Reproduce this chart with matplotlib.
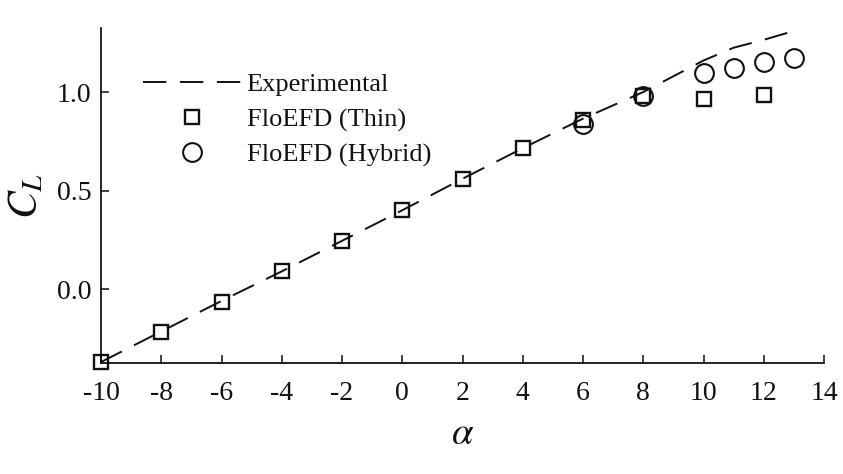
import matplotlib
matplotlib.use('Agg')
import matplotlib.pyplot as plt

exp_alpha = [-10, -8, -6, -4, -2, 0, 2, 4, 6, 8, 9, 10, 11, 12, 13]
exp_cl = [-0.37, -0.215, -0.06, 0.09, 0.245, 0.40, 0.56, 0.715, 0.865, 1.0, 1.08, 1.16, 1.225, 1.265, 1.31]
thin_alpha = [-10, -8, -6, -4, -2, 0, 2, 4, 6, 8, 10, 12]
thin_cl = [-0.37, -0.22, -0.065, 0.09, 0.245, 0.40, 0.56, 0.715, 0.86, 0.98, 0.965, 0.985]
hyb_alpha = [6, 8, 10, 11, 12, 13]
hyb_cl = [0.84, 0.98, 1.095, 1.12, 1.15, 1.175]
xticks = [-10, -8, -6, -4, -2, 0, 2, 4, 6, 8, 10, 12, 14]
yticks = [0.0, 0.5, 1.0]

plt.rcParams['font.family'] = ['Liberation Serif']
plt.rcParams['mathtext.fontset'] = 'stix'
plt.rcParams['axes.unicode_minus'] = False
fig = plt.figure(figsize=(8.43, 4.74), dpi=100)
ax = fig.add_axes([101/843, 1-363/474, (824-101)/843, (363-28)/474])
ax.set_xlim(-10, 14)
ax.set_ylim(-0.375, 1.325)
ax.plot(exp_alpha, exp_cl, color='#111111', lw=1.4, dashes=(12, 7), label='Experimental', clip_on=False)
ax.plot(thin_alpha, thin_cl, ls='none', marker='s', ms=10.4, mfc='none', mec='#111111', mew=1.7, label='FloEFD (Thin)', clip_on=False)
ax.plot(hyb_alpha, hyb_cl, ls='none', marker='o', ms=13.5, mfc='none', mec='#111111', mew=1.5, label='FloEFD (Hybrid)', clip_on=False)
for s in ['top', 'right']:
    ax.spines[s].set_visible(False)
for s in ['left', 'bottom']:
    ax.spines[s].set_linewidth(1.2)
ax.set_xticks(xticks)
ax.set_yticks(yticks)
ax.set_yticklabels(['0.0', '0.5', '1.0'])
ax.tick_params(axis='both', which='major', direction='in', length=5.5, width=1.1, labelsize=20, pad=7, color='#111111', labelcolor='#111111')
ax.tick_params(axis='x', pad=13)
ax.set_xlabel(r'$\alpha$', fontsize=28, labelpad=7.5, color='#111111')
ax.set_ylabel(r'$C_L$', fontsize=30, labelpad=7.5, color='#111111')
ax.legend(loc='upper left', bbox_to_anchor=(0.058, 0.866), frameon=False, fontsize=19, handlelength=3.7, handletextpad=0.23, labelspacing=0.43, borderpad=0, borderaxespad=0, numpoints=1, labelcolor='#111111')
fig.savefig('out.png', dpi=100)
